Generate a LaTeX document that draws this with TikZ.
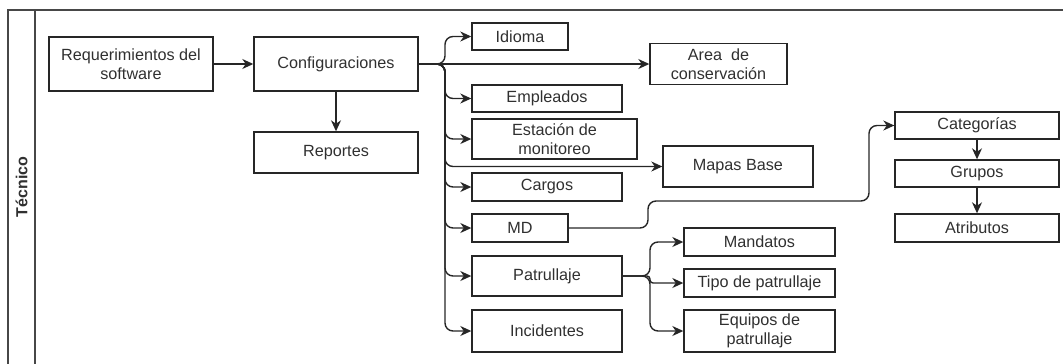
\documentclass[tikz,border=0pt]{standalone}
\usepackage{fontspec}
\setmainfont{Liberation Sans}
\usetikzlibrary{arrows.meta}
\definecolor{linec}{HTML}{262626}
\definecolor{textc}{HTML}{303030}
\begin{document}
\begin{tikzpicture}[x=1pt,y=-1pt,
  box/.style={draw=linec,line width=1.4pt,rectangle,inner sep=0pt,align=center,
    text=textc,font=\fontsize{16.2}{18.5}\selectfont},
  arr/.style={draw=linec,line width=1.4pt,-{Stealth[length=11pt,width=10pt,inset=3.5pt]},rounded corners=8pt},
  lane/.style={draw=linec!85,line width=1.3pt}]
\useasboundingbox (0,0) rectangle (1063,364);
% pool frame
\draw[lane] (8,364) -- (8,10) -- (1063,10);
\draw[lane] (35,10) -- (35,364);
\node[rotate=90,text=textc,font=\bfseries\fontsize{16}{18}\selectfont] (lanelabel) at (21.5,187) {Técnico};
% boxes
\node[box,minimum width=164pt,minimum height=54pt] (req) at (131,64) {Requerimientos del\\software};
\node[box,minimum width=164pt,minimum height=54pt] (conf) at (336,64) {Configuraciones};
\node[box,minimum width=164pt,minimum height=41pt] (rep) at (336,152.5) {Reportes};
\node[box,minimum width=96pt,minimum height=27pt] (idioma) at (520,36.5) {Idioma};
\node[box,minimum width=137pt,minimum height=41pt] (area) at (718.5,64) {Area\ \ de\\conservación};
\node[box,minimum width=150pt,minimum height=27pt] (emp) at (547,98.5) {Empleados};
\node[box,minimum width=165pt,minimum height=40pt] (est) at (554.5,139) {Estación de\\monitoreo};
\node[box,minimum width=150pt,minimum height=41pt] (mapas) at (738,166.5) {Mapas Base};
\node[box,minimum width=150pt,minimum height=28pt] (cargos) at (547,187) {Cargos};
\node[box,minimum width=96pt,minimum height=28pt] (md) at (520,228) {MD};
\node[box,minimum width=150pt,minimum height=40pt] (pat) at (547,276) {Patrullaje};
\node[box,minimum width=150pt,minimum height=42pt] (inc) at (547,331) {Incidentes};
\node[box,minimum width=151pt,minimum height=28pt] (mand) at (759.5,242) {Mandatos};
\node[box,minimum width=151pt,minimum height=28pt] (tipo) at (759.5,283) {Tipo de patrullaje};
\node[box,minimum width=151pt,minimum height=42pt] (equ) at (759.5,331) {Equipos de\\patrullaje};
\node[box,minimum width=164pt,minimum height=27pt] (cat) at (977,125.5) {Categorías};
\node[box,minimum width=164pt,minimum height=27pt] (grp) at (977,173.5) {Grupos};
\node[box,minimum width=164pt,minimum height=28pt] (atr) at (977,228) {Atributos};
% connectors
\draw[arr] (req.east) -- (conf.west);
\draw[arr] (conf.south) -- (rep.north);
\draw[arr] (conf.east) -- (conf.east -| area.west);
\foreach \t in {idioma,emp,est,mapas,cargos,md,pat,inc}
  \draw[arr] (conf.east) -- (445,64) |- (\t.west);
\draw[arr] (md.east) -- (648,228) -- (648,201) -- (869,201) |- (cat.west);
\draw[arr] (cat.south) -- (grp.north);
\draw[arr] (grp.south) -- (atr.north);
\draw[arr] (pat.east) -- (650,276) |- (mand.west);
\draw[arr] (pat.east) -- (650,276) |- (equ.west);
\draw[arr,rounded corners=3pt] (pat.east) -- (650,276) |- (tipo.west);
\end{tikzpicture}
\end{document}
